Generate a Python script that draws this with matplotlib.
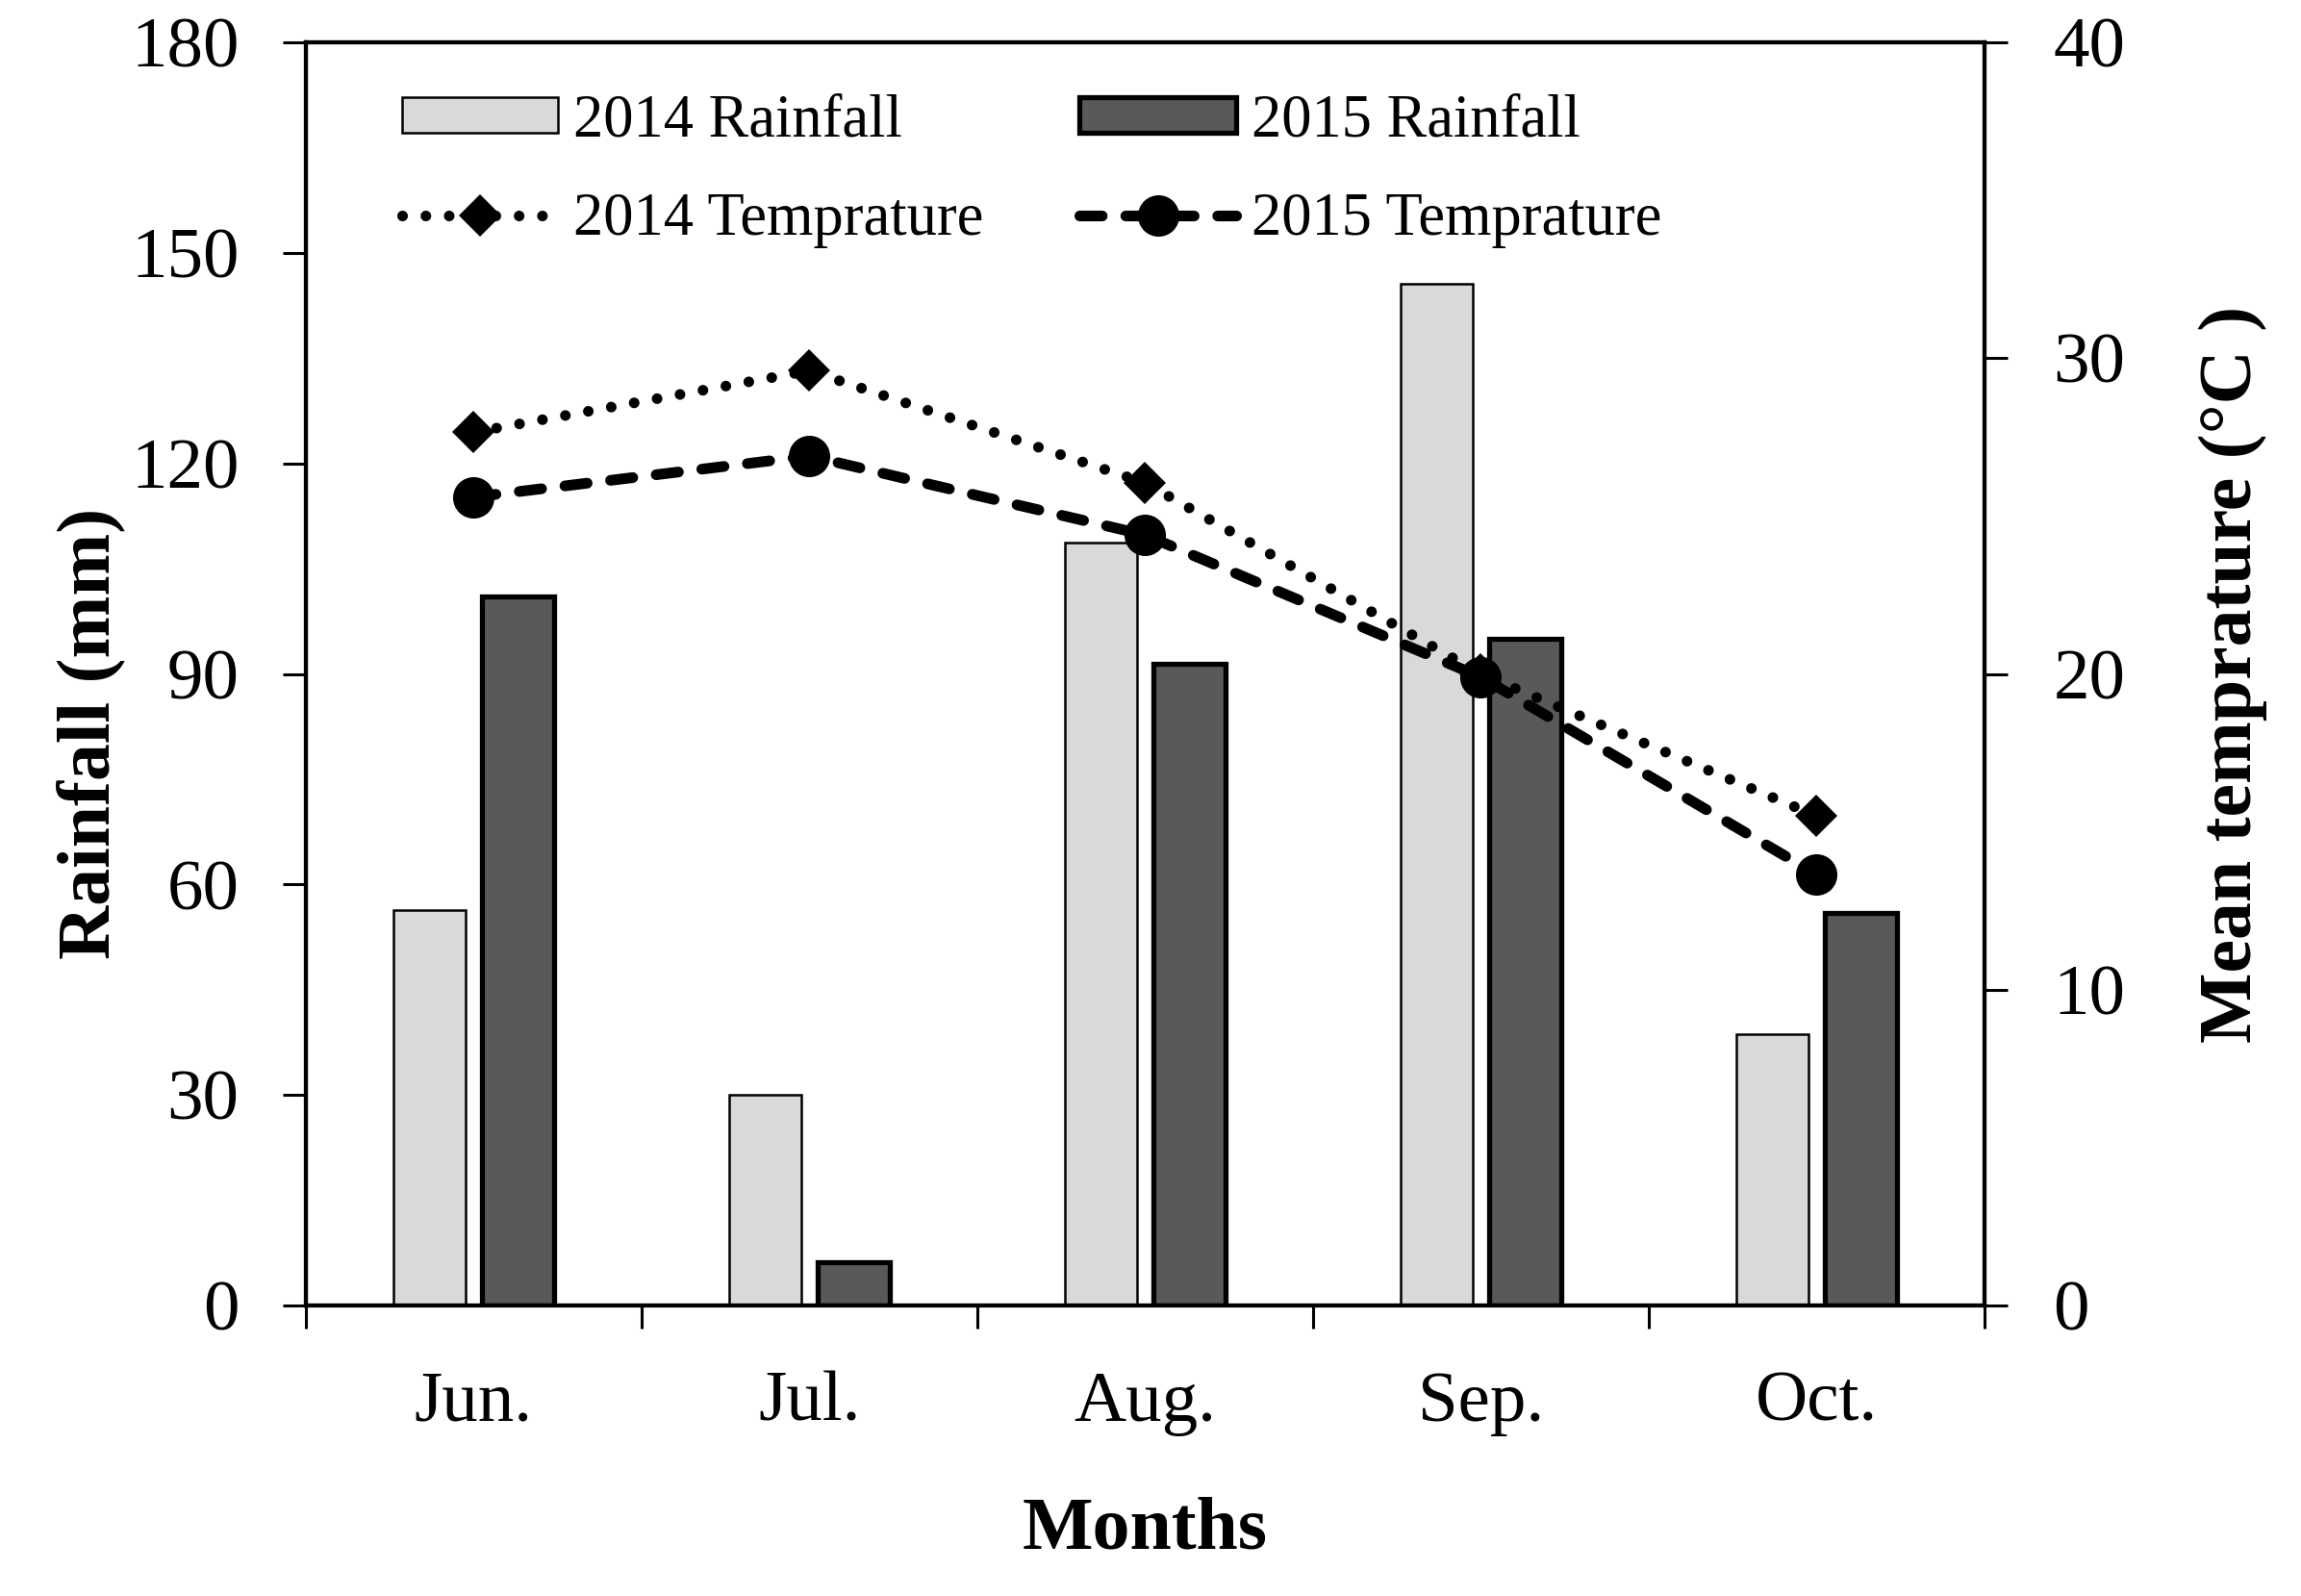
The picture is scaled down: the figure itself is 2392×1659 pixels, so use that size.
import matplotlib
matplotlib.use('Agg')
import matplotlib.pyplot as plt
import numpy as np

MONTHS = ['Jun.', 'Jul.', 'Aug.', 'Sep.', 'Oct.']
RAIN_2014 = [56.4, 30.0, 108.7, 145.6, 38.6]
RAIN_2015 = [101.1, 6.2, 91.5, 95.0, 56.0]
TEMP_2014 = [27.65, 29.6, 26.05, 20.0, 15.5]
TEMP_2015 = [25.6, 26.9, 24.4, 19.9, 13.65]

plt.rcParams['font.family'] = ['Liberation Serif', 'DejaVu Serif']

# Init Figure
figure = plt.figure(figsize=(23.92, 16.59), dpi=100)
ax = figure.add_axes([0.1329, 0.1820, 0.7295, 0.7915])
ax2 = ax.twinx()

x = np.arange(len(MONTHS))

### Rainfall bars
ax.bar(x - 0.132, RAIN_2014, width=0.215, color='#d9d9d9',
       edgecolor='black', linewidth=1.8, label='2014 Rainfall', zorder=2)
ax.bar(x + 0.132, RAIN_2015, width=0.215, color='#595959',
       edgecolor='black', linewidth=3.8, label='2015 Rainfall', zorder=2)

### Temperature lines
ax2.plot(x, TEMP_2014, color='black', linewidth=8,
         linestyle=(0, (0.001, 2.18)), dash_capstyle='round',
         marker='D', markersize=22, markeredgewidth=0,
         label='2014 Temprature')
ax2.plot(x, TEMP_2015, color='black', linewidth=8,
         linestyle=(0, (2.1, 2.2)), dash_capstyle='round',
         marker='o', markersize=31, markeredgewidth=0,
         label='2015 Temprature')

### Axes limits and ticks
ax.set_xlim(-0.5, len(MONTHS) - 0.5)
ax.set_ylim(0, 180)
ax2.set_ylim(0, 40)
ax.set_yticks(np.arange(0, 181, 30))
ax2.set_yticks(np.arange(0, 41, 10))
ax.set_xticks(np.arange(-0.5, len(MONTHS), 1))
ax.set_xticklabels([])
ax.set_xticks(x, minor=True)
ax.set_xticklabels(MONTHS, minor=True)

ax.tick_params(axis='x', which='major', direction='out', length=17, width=2.2)
ax.tick_params(axis='x', which='minor', length=0, pad=49, labelsize=54)
ax.tick_params(axis='y', direction='out', length=17, width=2.2, pad=33,
               labelsize=54)
ax2.tick_params(axis='y', direction='out', length=17, width=2.2, pad=34.5,
                labelsize=54)

for axis in (ax, ax2):
    for spine in axis.spines.values():
        spine.set_linewidth(3)

### Labels
ax.set_ylabel('Rainfall (mm)', fontsize=56, fontweight='bold', labelpad=4,
              y=0.453)
ax2.set_ylabel('Mean temprature (°C )', fontsize=56, fontweight='bold',
               labelpad=55)
ax.set_xlabel('Months', fontsize=56, fontweight='bold', labelpad=45)

### Legend
h1, l1 = ax.get_legend_handles_labels()
h2, l2 = ax2.get_legend_handles_labels()
# column order so that rows are: rainfall, temprature
handles = [h1[0], h2[0], h1[1], h2[1]]
labels = [l1[0], l2[0], l1[1], l2[1]]
ax2.legend(handles, labels, ncol=2, loc='upper left',
           bbox_to_anchor=(0.0573, 0.959), frameon=False, fontsize=45,
           borderpad=0, borderaxespad=0, handlelength=2.6, handleheight=0.53,
           handletextpad=0.25, columnspacing=1.6, labelspacing=0.71)

figure.savefig('out.png', dpi=100)
